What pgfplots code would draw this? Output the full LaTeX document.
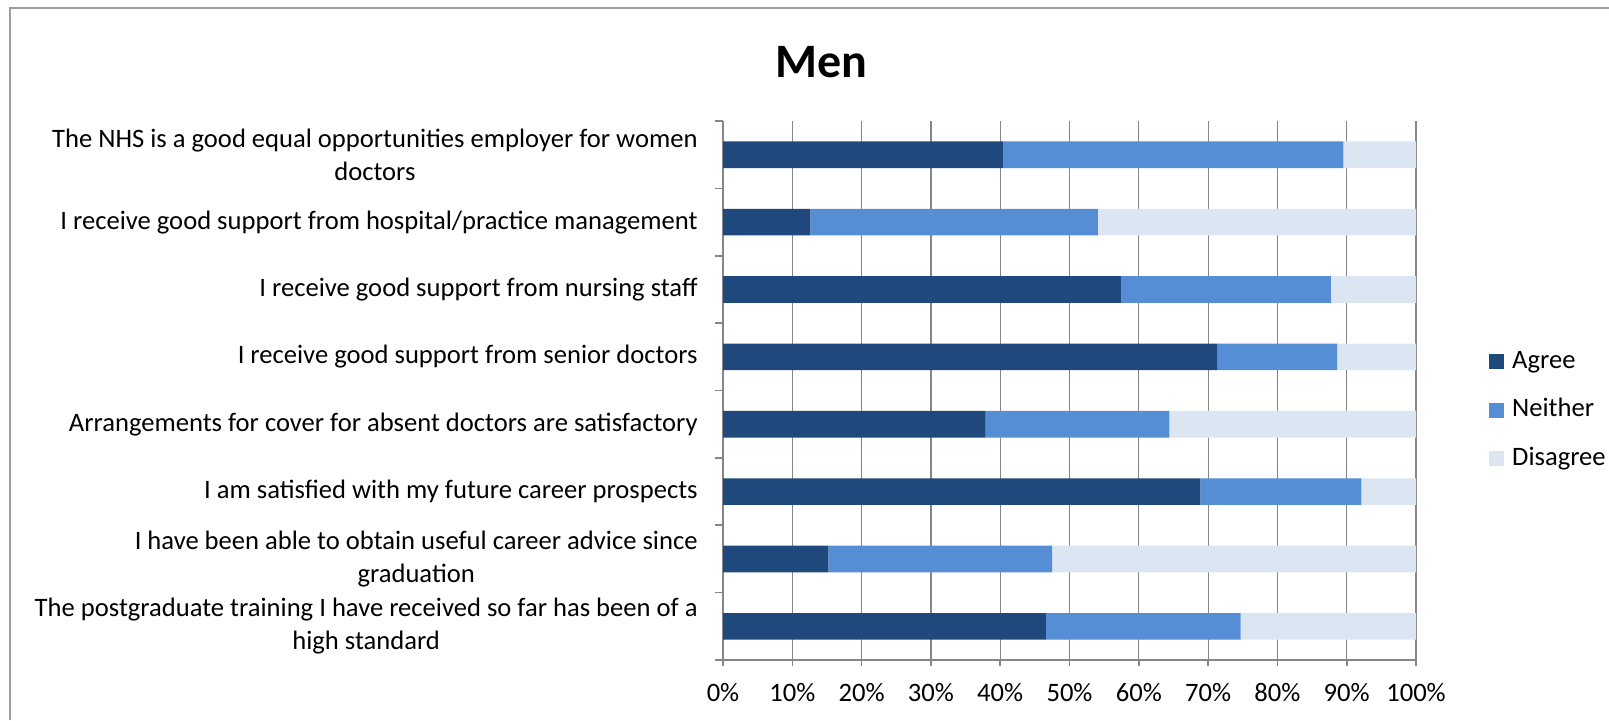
\documentclass[border=0pt]{standalone}
\usepackage{fontspec}
\setmainfont{Carlito}
\usepackage{pgfplots}
\pgfplotsset{compat=1.18}
\usepackage{pgfplotstable}
\definecolor{cAgree}{HTML}{1F497D}
\definecolor{cNeither}{HTML}{558ED5}
\definecolor{cDis}{HTML}{DCE6F2}
\definecolor{cGrid}{HTML}{868686}
\pgfplotstableread{
y agree neither disagree
0 46.6 28.1 25.3
1 15.2 32.3 52.5
2 68.9 23.2 7.9
3 37.9 26.5 35.6
4 71.3 17.3 11.4
5 57.5 30.2 12.3
6 12.6 41.5 45.9
7 40.4 49.1 10.5
}\datatable
\begin{document}
\begin{tikzpicture}
\useasboundingbox (0,0) rectangle (804.5pt,360pt);
\draw[cGrid!80, line width=0.8pt] (5pt,0) -- (5pt,356pt) -- (804.5pt,356pt);
\node[font=\fontsize{24}{28}\selectfont\bfseries] at (410.5pt,329pt) {Men};
\begin{axis}[
  at={(361.5pt,30pt)}, anchor=south west,
  scale only axis, width=346.5pt, height=269.5pt,
  xbar stacked, bar width=13.3pt,
  xmin=0, xmax=100, ymin=-0.5, ymax=7.5,
  axis x line*=bottom, axis y line*=left,
  axis line style={cGrid, line width=0.8pt},
  xtick={0,10,...,100},
  xticklabel={\pgfmathprintnumber{\tick}\%},
  /pgf/number format/assume math mode=true,
  tick align=outside,
  major tick length=3pt,
  minor tick length=4pt,
  tick style={cGrid, line width=0.8pt},
  major y tick style={draw=none},
  xmajorgrids, grid style={cGrid, line width=0.6pt},
  ytick={0,...,7},
  minor ytick={-0.5,0.5,...,7.5},
  yticklabels={
    {The postgraduate training I have received so far has been of a\\high standard},
    {I have been able to obtain useful career advice since\\graduation},
    {I am satisfied with my future career prospects},
    {Arrangements for cover for absent doctors are satisfactory},
    {I receive good support from senior doctors},
    {I receive good support from nursing staff},
    {I receive good support from hospital/practice management},
    {The NHS is a good equal opportunities employer for women\\doctors}},
  yticklabel style={align=center, inner sep=0pt, xshift=-9.5pt, font=\fontsize{13.3}{16.5}\selectfont},
  xticklabel style={font=\fontsize{13.3}{16}\selectfont, yshift=-5pt},
  legend image code/.code={\fill[#1] (0pt,-3.75pt) rectangle (7.5pt,3.75pt); \path (10.5pt,0pt);},
  legend style={at={(1.105,0.4638)}, anchor=west, draw=none, fill=none,
    inner sep=0pt, row sep=9.75pt,
    nodes={inner sep=1pt, text height=9.5pt, text depth=3pt, font=\fontsize{13.3}{16}\selectfont}},
  legend cell align=left,
]
\addplot[fill=cAgree, draw=none] table[x=agree, y=y] {\datatable};
\addplot[fill=cNeither, draw=none] table[x=neither, y=y] {\datatable};
\addplot[fill=cDis, draw=none] table[x=disagree, y=y] {\datatable};
\legend{Agree, Neither, Disagree}
\end{axis}
\end{tikzpicture}
\end{document}
